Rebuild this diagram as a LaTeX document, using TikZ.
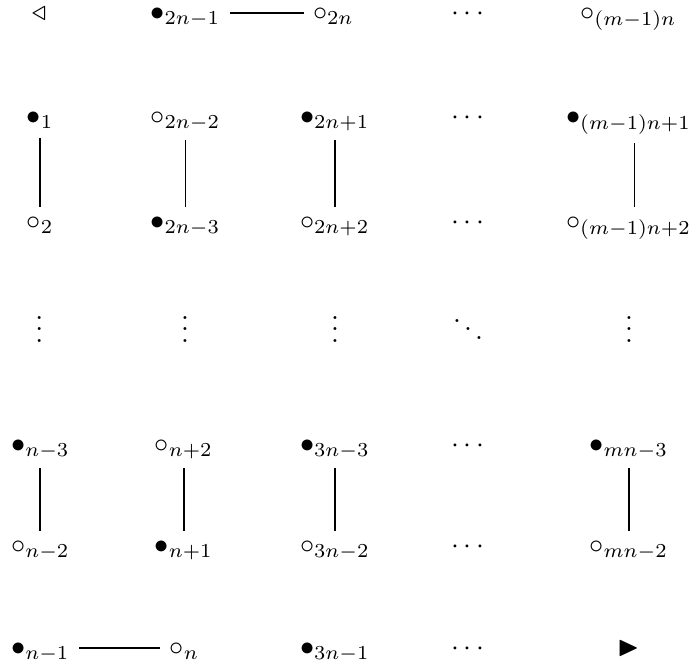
\documentclass[tikz,border=0pt]{standalone}
\usepackage{amssymb}
\begin{document}
\begin{tikzpicture}[x=0.3534pt, y=-0.3534pt,
  cell/.style={inner sep=3.33pt, outer sep=0pt, anchor=base west},
  mid/.style={inner sep=3.33pt, outer sep=0pt, anchor=base},
  flat/.style={inner ysep=0.5pt},
  edge/.style={line width=0.65pt}]
\useasboundingbox (0,0) rectangle (690,669);
% row 1
\node[mid,flat]  (a1) at (39,20)    {$\triangleleft$};
\node[cell,flat] (a2) at (141.1,20) {$\bullet_{2n-1}$};
\node[cell,flat] (a3) at (303.6,20) {$\circ_{2n}$};
\node[mid,flat]  (a4) at (467.5,20) {$\cdots$};
\node[cell,flat] (a5) at (570.9,20) {$\circ_{(m-1)n}$};
% row 2
\node[cell] (b1) at (17.4,124)  {$\bullet_{1}$};
\node[cell] (b2) at (141.1,124) {$\circ_{2n-2}$};
\node[cell] (b3) at (290.6,124) {$\bullet_{2n+1}$};
\node[mid]  (b4) at (467.5,124) {$\cdots$};
\node[cell] (b5) at (556.6,124) {$\bullet_{(m-1)n+1}$};
% row 3
\node[cell] (c1) at (17.4,229)  {$\circ_{2}$};
\node[cell] (c2) at (141.1,229) {$\bullet_{2n-3}$};
\node[cell] (c3) at (290.6,229) {$\circ_{2n+2}$};
\node[mid]  (c4) at (467.5,229) {$\cdots$};
\node[cell] (c5) at (556.6,229) {$\circ_{(m-1)n+2}$};
% row 4
\node[mid,flat] (d1) at (39.3,342) {$\vdots$};
\node[mid,flat] (d2) at (185,342)  {$\vdots$};
\node[mid,flat] (d3) at (335,342)  {$\vdots$};
\node[mid,flat] (d4) at (468,342)  {$\ddots$};
\node[mid,flat] (d5) at (629,342)  {$\vdots$};
% row 5
\node[cell] (e1) at (1.7,452)   {$\bullet_{n-3}$};
\node[cell] (e2) at (145.3,452) {$\circ_{n+2}$};
\node[cell] (e3) at (290.6,452) {$\bullet_{3n-3}$};
\node[mid]  (e4) at (467.5,452) {$\cdots$};
\node[cell] (e5) at (580.0,452) {$\bullet_{mn-3}$};
% row 6
\node[cell] (f1) at (1.7,553)   {$\circ_{n-2}$};
\node[cell] (f2) at (145.3,553) {$\bullet_{n+1}$};
\node[cell] (f3) at (290.6,553) {$\circ_{3n-2}$};
\node[mid]  (f4) at (467.5,553) {$\cdots$};
\node[cell] (f5) at (580.0,553) {$\circ_{mn-2}$};
% row 7
\node[cell,flat] (g1) at (1.7,655)   {$\bullet_{n-1}$};
\node[cell,flat] (g2) at (160.3,655) {$\circ_{n}$};
\node[cell,flat] (g3) at (290.6,655) {$\bullet_{3n-1}$};
\node[mid,flat]  (g4) at (467.5,655) {$\cdots$};
\node[mid,flat]  (g5) at (628.3,655.5) {$\blacktriangleright$};
% connectors
\draw[edge] ([yshift=2.5pt]a2.base east) -- ([yshift=2.5pt]a3.base west);
\draw[edge] ([yshift=2.5pt]g1.base east) -- ([yshift=2.5pt]g2.base west);
\draw[edge] (b1.south) -- (c1.north);
\draw[edge] (b2.south) -- (c2.north);
\draw[edge] (b3.south) -- (c3.north);
\draw[edge] ([xshift=2.1pt]b5.south) -- ([xshift=2.1pt]c5.north);
\draw[edge] (e1.south) -- (f1.north);
\draw[edge] (e2.south) -- (f2.north);
\draw[edge] (e3.south) -- (f3.north);
\draw[edge] (e5.south) -- (f5.north);
\end{tikzpicture}
\end{document}
